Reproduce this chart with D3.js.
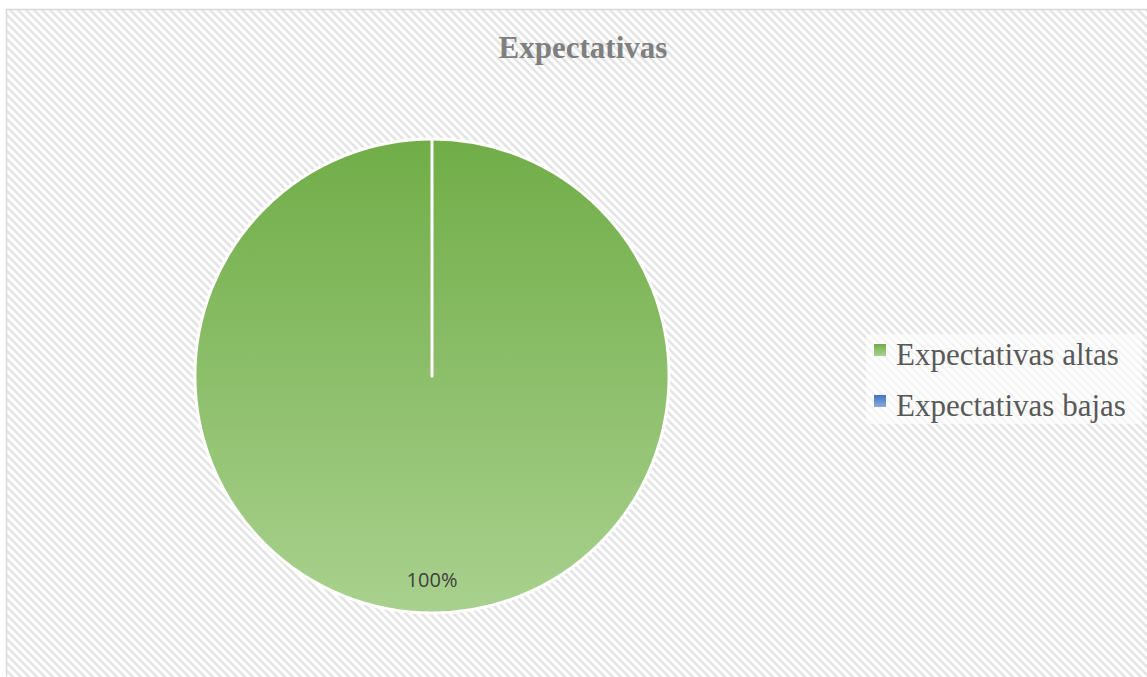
<!DOCTYPE html>
<html>
<head>
<meta charset="utf-8">
<script src="https://cdn.jsdelivr.net/npm/d3@7"></script>
<style>
  html, body { margin: 0; padding: 0; background: #fff; }
  svg { display: block; }
</style>
</head>
<body>
<div id="chart"></div>
<script>
// chart data
const title = 'Expectativas';
const categories = ['Expectativas altas', 'Expectativas bajas'];
const values = [100, 0];
const labels = ['100%', ''];

// colours per slice: [top, bottom] of the gradient
const sliceColors = [['#70AD47', '#A9D18E'], ['#4472C4', '#8FAADC']];

const width = 1147;
const height = 677;

const svg = d3.select('#chart')
    .append('svg')
    .attr('width', width)
    .attr('height', height);

const defs = svg.append('defs');

// diagonal hatch background
const pat = defs.append('pattern')
    .attr('id', 'hatch')
    .attr('patternUnits', 'userSpaceOnUse')
    .attr('width', 8)
    .attr('height', 8);
pat.append('rect').attr('width', 8).attr('height', 8).attr('fill', '#fff');
pat.append('path')
    .attr('d', 'M-2,-2L10,10M-2,6L2,10M6,-2L10,2')
    .attr('stroke', '#e4e4e4')
    .attr('stroke-width', 2.6);

// slice gradients
sliceColors.forEach((c, i) => {
    const g = defs.append('linearGradient')
        .attr('id', 'grad' + i)
        .attr('x1', 0).attr('y1', 0).attr('x2', 0).attr('y2', 1);
    g.append('stop').attr('offset', '0%').attr('stop-color', c[0]);
    g.append('stop').attr('offset', '100%').attr('stop-color', c[1]);
});

// background + border
svg.append('rect')
    .attr('x', 6.5).attr('y', 9.5)
    .attr('width', width + 10).attr('height', height + 10)
    .attr('fill', 'url(#hatch)')
    .attr('stroke', '#d9d9d9')
    .attr('stroke-width', 1.5);

// title
svg.append('text')
    .attr('x', 583)
    .attr('y', 58)
    .attr('text-anchor', 'middle')
    .attr('font-family', '"Liberation Serif", "Times New Roman", serif')
    .attr('font-weight', 'bold')
    .attr('font-size', 31)
    .attr('fill', '#7f7f7f')
    .text(title);

// pie
const cx = 432, cy = 376, r = 237;

const pie = d3.pie().sort(null).value(d => d.value);
const arcs = pie(categories.map((c, i) => ({name: c, value: values[i], label: labels[i], idx: i})));

const arc = d3.arc().innerRadius(0).outerRadius(r);
const labelArc = d3.arc().innerRadius(r * 0.86).outerRadius(r * 0.86);

const g = svg.append('g').attr('transform', `translate(${cx},${cy})`);

g.selectAll('path.slice')
    .data(arcs)
    .join('path')
    .attr('class', 'slice')
    .attr('d', arc)
    .attr('fill', d => `url(#grad${d.data.idx})`)
    .attr('stroke', '#fff')
    .attr('stroke-width', 3)
    .attr('stroke-linejoin', 'round');

g.selectAll('text.lbl')
    .data(arcs.filter(d => d.data.label))
    .join('text')
    .attr('class', 'lbl')
    .attr('transform', d => `translate(${labelArc.centroid(d)})`)
    .attr('text-anchor', 'middle')
    .attr('dy', '0.35em')
    .attr('font-family', '"Open Sans", "Noto Sans", sans-serif')
    .attr('font-size', 20)
    .attr('fill', '#404040')
    .text(d => d.data.label);

// legend (soft white box behind it)
svg.append('rect')
    .attr('x', 866).attr('y', 334)
    .attr('width', 276).attr('height', 90)
    .attr('fill', '#fff')
    .attr('opacity', 0.6);

const legend = svg.append('g').attr('transform', 'translate(874,344)');
const items = legend.selectAll('g')
    .data(categories)
    .join('g')
    .attr('transform', (d, i) => `translate(0,${i * 51})`);

items.append('rect')
    .attr('width', 12).attr('height', 12)
    .attr('fill', (d, i) => `url(#grad${i})`);

items.append('text')
    .attr('x', 22)
    .attr('y', 21)
    .attr('font-family', '"Liberation Serif", "Times New Roman", serif')
    .attr('font-size', 31)
    .attr('fill', '#595959')
    .text(d => d);
</script>
</body>
</html>
